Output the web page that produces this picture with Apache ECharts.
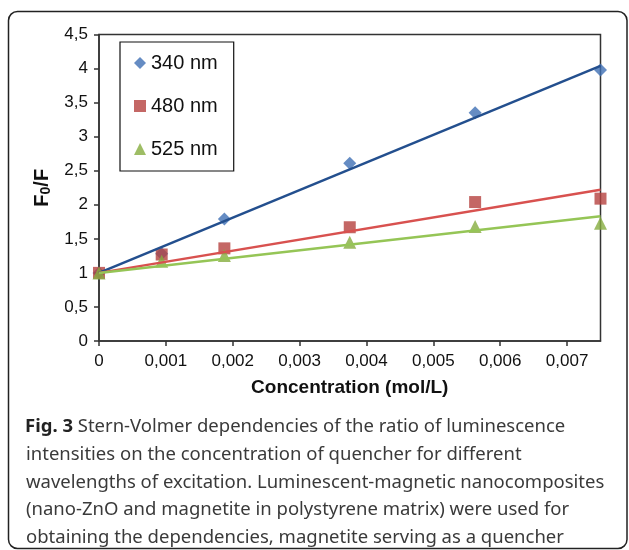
<!DOCTYPE html>
<html>
<head>
<meta charset="utf-8">
<script src="https://cdn.jsdelivr.net/npm/echarts@6/dist/echarts.min.js"></script>
<style>
html,body{margin:0;padding:0;background:#fff;}
#chart{width:629px;height:550px;}
</style>
</head>
<body>
<div id="chart"></div>
<script>
// ---- data ----
const concentration = [0, 0.0009375, 0.001875, 0.00375, 0.005625, 0.0075];
const ratio340 = [1, 1.28, 1.79, 2.61, 3.35, 3.98];
const ratio480 = [1, 1.27, 1.36, 1.67, 2.04, 2.09];
const ratio525 = [1, 1.17, 1.255, 1.45, 1.68, 1.73];
const trendX = [0, 0.0075];
const trend340 = [1, 4.04];
const trend480 = [1, 2.22];
const trend525 = [1, 1.83];
const xTicks = [0, 0.001, 0.002, 0.003, 0.004, 0.005, 0.006, 0.007];
const seriesNames = ['340 nm', '480 nm', '525 nm'];
const captionBold = 'Fig. 3';
const captionLines = [
  ' Stern-Volmer dependencies of the ratio of luminescence',
  'intensities on the concentration of quencher for different',
  'wavelengths of excitation. Luminescent-magnetic nanocomposites',
  '(nano-ZnO and magnetite in polystyrene matrix) were used for',
  'obtaining the dependencies, magnetite serving as a quencher'
];

const pairs = (xs, ys) => xs.map((x, i) => [x, ys[i]]);
const comma = v => String(+v.toFixed(4)).replace('.', ',');

const chart = echarts.init(document.getElementById('chart'), null, {renderer: 'canvas'});
const axisFont = 'Liberation Sans, Arial, sans-serif';
const captionFont = '"Noto Sans", "Open Sans", sans-serif';
const capSize = 18.5;

const graphics = [
  {type: 'rect', shape: {x: 8.5, y: 11.5, width: 618.5, height: 537, r: 9},
   style: {fill: null, stroke: '#222', lineWidth: 1.5}, z: 0, silent: true},
  {type: 'text', left: 25, top: 417,
   style: {rich: {b: {fontFamily: captionFont, fontWeight: 'bold', fontSize: capSize, fill: '#222'},
                  r: {fontFamily: captionFont, fontWeight: 'normal', fontSize: capSize, fill: '#3a3a3a'}},
           text: '{b|' + captionBold + '}{r|' + captionLines[0] + '}'}}
];
captionLines.slice(1).forEach((t, i) => {
  graphics.push({type: 'text', left: 26, top: 445.5 + i * 27.6,
    style: {text: t, fontFamily: captionFont, fontWeight: 'normal', fontSize: capSize, fill: '#3a3a3a'}});
});

const option = {
  backgroundColor: '#fff',
  animation: false,
  grid: {left: 99, right: 28.5, top: 34.5, bottom: 209, show: true,
         borderColor: '#333', borderWidth: 1.5, backgroundColor: 'transparent'},
  legend: {
    data: seriesNames, orient: 'vertical', left: 120, top: 42,
    padding: [11, 16, 12, 14], itemGap: 23, itemWidth: 12, itemHeight: 12,
    backgroundColor: '#fff', borderColor: '#111', borderWidth: 1.2, borderRadius: 0,
    textStyle: {fontFamily: axisFont, fontSize: 20, color: '#111', lineHeight: 20, padding: [0,0,0,0]}
  },
  xAxis: {
    type: 'value', min: 0, max: 0.0075, interval: 0.001,
    name: 'Concentration (mol/L)', nameLocation: 'middle', nameGap: 37,
    nameTextStyle: {fontFamily: axisFont, fontSize: 19, fontWeight: 'bold', color: '#111'},
    axisLine: {show: true, onZero: false, lineStyle: {color: '#333', width: 1.5}},
    axisTick: {show: true, length: 5, customValues: xTicks, lineStyle: {color: '#333', width: 1.5}},
    axisLabel: {customValues: xTicks, formatter: comma, margin: 12,
                fontFamily: axisFont, fontSize: 17, color: '#111'},
    splitLine: {show: false}
  },
  yAxis: {
    type: 'value', min: 0, max: 4.5, interval: 0.5,
    name: '{a|F}{s|0}{a|/F}', nameLocation: 'middle', nameGap: 43,
    nameTextStyle: {rich: {
      a: {fontFamily: axisFont, fontSize: 20, fontWeight: 'bold', color: '#111', lineHeight: 22},
      s: {fontFamily: axisFont, fontSize: 14, fontWeight: 'bold', color: '#111', lineHeight: 22, padding: [7,0,0,0]}
    }},
    axisLine: {show: true, lineStyle: {color: '#333', width: 1.5}},
    axisTick: {show: true, length: 5, lineStyle: {color: '#333', width: 1.5}},
    axisLabel: {formatter: comma, margin: 11, fontFamily: axisFont, fontSize: 17, color: '#111'},
    splitLine: {show: false}
  },
  series: [
    {name: seriesNames[0], type: 'scatter', symbol: 'diamond', symbolSize: 13,
     itemStyle: {color: '#3f6fb4'}, data: pairs(concentration, ratio340), z: 2},
    {name: seriesNames[1], type: 'scatter', symbol: 'rect', symbolSize: 12,
     itemStyle: {color: '#b5413f'}, data: pairs(concentration, ratio480), z: 2},
    {name: seriesNames[2], type: 'scatter', symbol: 'triangle', symbolSize: 13,
     itemStyle: {color: '#86ac3f'}, data: pairs(concentration, ratio525), z: 2},
    {name: 'trend340', type: 'line', showSymbol: false, symbol: 'none', data: pairs(trendX, trend340),
     lineStyle: {color: '#234f8e', width: 2.5}, z: 3, silent: true},
    {name: 'trend480', type: 'line', showSymbol: false, symbol: 'none', data: pairs(trendX, trend480),
     lineStyle: {color: '#d8514f', width: 2.5}, z: 3, silent: true},
    {name: 'trend525', type: 'line', showSymbol: false, symbol: 'none', data: pairs(trendX, trend525),
     lineStyle: {color: '#95c556', width: 2.5}, z: 3, silent: true}
  ],
  graphic: graphics
};
chart.setOption(option);
</script>
</body>
</html>
